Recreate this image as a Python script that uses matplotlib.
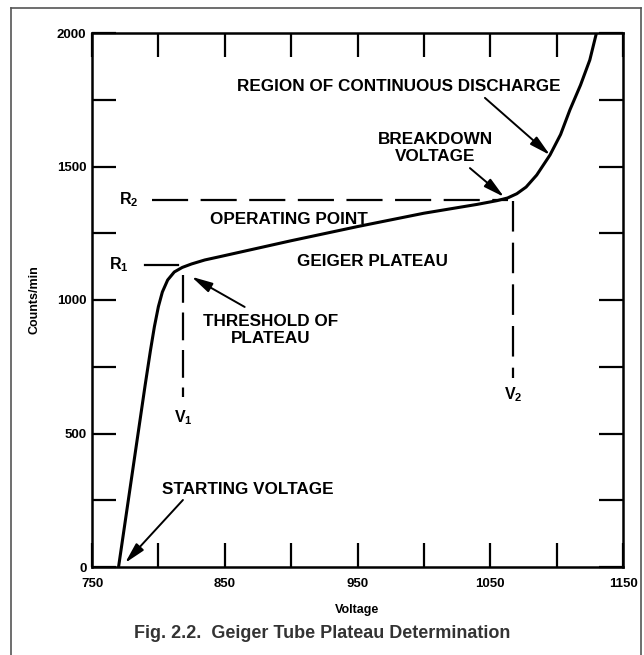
import matplotlib
matplotlib.use("Agg")
import matplotlib.pyplot as plt
from matplotlib.lines import Line2D

plt.rcParams['font.family'] = ['Liberation Sans', 'DejaVu Sans']
plt.rcParams['font.weight'] = 'bold'
plt.rcParams['mathtext.fontset'] = 'custom'
plt.rcParams['mathtext.rm'] = 'Liberation Sans:bold'
plt.rcParams['mathtext.bf'] = 'Liberation Sans:bold'
plt.rcParams['mathtext.it'] = 'Liberation Sans:bold'
plt.rcParams['lines.scale_dashes'] = False

# ---- data ----
voltage = [770, 775, 780, 785, 790, 794, 797, 800, 803, 807, 812, 818, 825,
           835, 846, 900, 950, 1000, 1040, 1055, 1063, 1070, 1077, 1085,
           1095, 1103, 1110, 1118, 1125, 1130]
counts = [0, 170, 340, 510, 680, 810, 900, 975, 1030, 1075, 1105, 1122, 1135,
          1150, 1162, 1222, 1275, 1325, 1358, 1372, 1382, 1398, 1423, 1468,
          1543, 1620, 1712, 1805, 1899, 2000]

x_ticks = [750, 800, 850, 900, 950, 1000, 1050, 1100, 1150]
x_tick_labels = ['750', '', '850', '', '950', '', '1050', '', '1150']
y_ticks = [0, 250, 500, 750, 1000, 1250, 1500, 1750, 2000]
y_tick_labels = ['0', '', '500', '', '1000', '', '1500', '', '2000']

R1, R2 = 1131, 1374
V1, V2 = 818.5, 1067

# ---- figure ----
fig = plt.figure(figsize=(6.44, 6.55), dpi=100)
ax = fig.add_axes([92/644, 1 - 567/655, 531/644, 534/655])

ax.plot(voltage, counts, color='black', lw=2.2, solid_capstyle='round',
        solid_joinstyle='round')

ax.set_xlim(750, 1150)
ax.set_ylim(0, 2000)
ax.set_xticks(x_ticks)
ax.set_xticklabels(x_tick_labels)
ax.set_yticks(y_ticks)
ax.set_yticklabels(y_tick_labels)
ax.tick_params(axis='both', direction='in', length=17, width=1.6,
               top=True, right=True, labelsize=9.5, colors='black')
ax.tick_params(axis='x', pad=8)
ax.tick_params(axis='y', pad=4)
for s in ax.spines.values():
    s.set_linewidth(1.8)

ax.set_xlabel('Voltage', fontsize=9, fontweight='bold', labelpad=10)
ax.set_ylabel('Counts/min', fontsize=9, fontweight='bold', labelpad=12)

# R1 / R2 horizontal dashed markers
ax.plot([789.8, 814.8], [R1, R1], color='black', lw=1.6)
ax.plot([795, 1063], [R2, R2], color='black', lw=1.6, linestyle=(0, (26, 9)))
# V1 / V2 vertical dashed markers
ax.plot([V1, V1], [1094, 637], color='black', lw=1.6, linestyle=(0, (20, 7)))
ax.plot([V2, V2], [1370, 708], color='black', lw=1.6, linestyle=(0, (22, 8)))

fs = 12.3
ax.text(770.5, R1, r'$\mathbf{R_1}$', fontsize=11.5, ha='center', va='center')
ax.text(778, R2, r'$\mathbf{R_2}$', fontsize=11.5, ha='center', va='center')
ax.text(V1, 560, r'$\mathbf{V_1}$', fontsize=11.5, ha='center', va='center')
ax.text(V2, 644, r'$\mathbf{V_2}$', fontsize=11.5, ha='center', va='center')

ax.text(898.4, 1303, 'OPERATING POINT', fontsize=fs, ha='center', va='center')
ax.text(961, 1146, 'GEIGER PLATEAU', fontsize=fs, ha='center', va='center')

arrow = dict(arrowstyle='-|>,head_length=0.9,head_width=0.22', color='black',
             lw=1.4, shrinkA=0, shrinkB=0, mutation_scale=14)

ax.text(981, 1798, 'REGION OF CONTINUOUS DISCHARGE', fontsize=fs,
        ha='center', va='center')
ax.annotate('', xy=(1095, 1543), xytext=(1046, 1757), arrowprops=arrow)

ax.text(1008.4, 1569, 'BREAKDOWN\nVOLTAGE', fontsize=fs, ha='center', va='center',
        linespacing=1.2)
ax.annotate('', xy=(1060.4, 1386), xytext=(1034.7, 1494), arrowprops=arrow)

ax.text(884.8, 888, 'THRESHOLD OF\nPLATEAU', fontsize=fs, ha='center', va='center',
        linespacing=1.2)
ax.annotate('', xy=(825, 1087), xytext=(865, 974), arrowprops=arrow)

ax.text(867, 292, 'STARTING VOLTAGE', fontsize=fs, ha='center', va='center')
ax.annotate('', xy=(774.9, 15), xytext=(818.5, 251), arrowprops=arrow)

# caption
fig.text(0.5, 1 - 633/655, 'Fig. 2.2.  Geiger Tube Plateau Determination',
         ha='center', va='center', fontsize=13, fontweight='bold', color='#333333')

# outer frame
W, H = 644, 655
fc = '#555555'
fig.add_artist(Line2D([11/W, 11/W], [0, 1 - 8/H], color=fc, lw=1.2))
fig.add_artist(Line2D([11/W, 641/W], [1 - 8/H, 1 - 8/H], color=fc, lw=1.2))
fig.add_artist(Line2D([641/W, 641/W], [0, 1 - 8/H], color=fc, lw=1.2))

fig.savefig('out.png', dpi=100)
